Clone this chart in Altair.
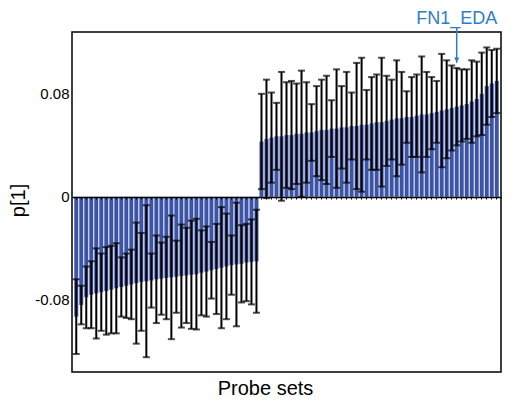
import altair as alt
import pandas as pd

# loadings p[1] of probe sets, sorted (negative block, then positive block)
neg_values = [-0.093, -0.084, -0.078, -0.076, -0.075, -0.074, -0.073, -0.072, -0.071, -0.070,
              -0.069, -0.068, -0.067, -0.066, -0.0655, -0.065, -0.064, -0.0635, -0.063, -0.0625,
              -0.062, -0.0615, -0.061, -0.0605, -0.060, -0.059, -0.058, -0.057, -0.056, -0.055,
              -0.054, -0.053, -0.0525, -0.052, -0.051, -0.0505, -0.050]
neg_errors = [0.029, 0.015, 0.024, 0.026, 0.035, 0.030, 0.034, 0.034, 0.035, 0.023,
              0.025, 0.027, 0.047, 0.038, 0.059, 0.021, 0.034, 0.028, 0.032, 0.048,
              0.028, 0.040, 0.037, 0.042, 0.043, 0.033, 0.035, 0.022, 0.035, 0.047,
              0.041, 0.023, 0.048, 0.030, 0.030, 0.033, 0.040]
pos_values = [0.043, 0.045, 0.046, 0.047, 0.047, 0.048, 0.048, 0.049, 0.049, 0.050,
              0.050, 0.051, 0.052, 0.052, 0.053, 0.053, 0.054, 0.054, 0.055, 0.055,
              0.056, 0.056, 0.057, 0.058, 0.058, 0.059, 0.060, 0.061, 0.061, 0.062,
              0.062, 0.063, 0.064, 0.064, 0.065, 0.066, 0.067, 0.068, 0.069, 0.070,
              0.071, 0.072, 0.074, 0.076, 0.080, 0.086, 0.088, 0.090]
pos_errors = [0.037, 0.046, 0.035, 0.026, 0.050, 0.041, 0.042, 0.039, 0.049, 0.039,
              0.022, 0.035, 0.039, 0.042, 0.022, 0.046, 0.032, 0.043, 0.026, 0.049,
              0.052, 0.027, 0.036, 0.037, 0.050, 0.035, 0.031, 0.045, 0.036, 0.020,
              0.031, 0.032, 0.045, 0.033, 0.028, 0.024, 0.044, 0.038, 0.033, 0.030,
              0.028, 0.027, 0.032, 0.029, 0.032, 0.030, 0.026, 0.025]

y_ticks = [-0.08, 0, 0.08]
highlight_label = "FN1_EDA"
highlight_index = 76

values = neg_values + pos_values
errors = neg_errors + pos_errors
df = pd.DataFrame({"probe": list(range(len(values))), "p1": values, "err": errors})
df["lo"] = df["p1"] - df["err"]
df["hi"] = df["p1"] + df["err"]

ann = pd.DataFrame({
    "probe": [highlight_index],
    "label": [highlight_label],
    "tip": [df.loc[highlight_index, "hi"] + 0.004],
})

FONT = "Liberation Sans"
BLUE = "#3B54A6"
ANN = "#2E7DC4"

x_enc = alt.X(
    "probe:O",
    scale=alt.Scale(paddingInner=0.2, paddingOuter=0.45),
    axis=alt.Axis(
        labels=False, ticks=True, tickSize=2, tickColor="black", tickWidth=1,
        domain=True, domainColor="black", domainWidth=1.5, grid=False,
        offset=-175, zindex=1,
        title="Probe sets", titleFontSize=20, titleFontWeight="normal", titleFont=FONT,
        titleColor="black", titleX=193, titleY=197, titleBaseline="alphabetic",
    ),
)
y_scale = alt.Scale(domain=[-0.136, 0.128], nice=False, zero=False)
y_enc = alt.Y(
    "p1:Q",
    scale=y_scale,
    axis=alt.Axis(
        values=y_ticks,
        labelExpr="datum.value == 0 ? '0' : (datum.value < 0 ? '-' : '') + format(abs(datum.value), '.2f')",
        ticks=False, grid=False, domain=False, labelFontSize=15, labelColor="black",
        labelFont=FONT, labelPadding=3,
        title="p[1]", titleFontSize=20, titleFontWeight="normal", titleFont=FONT,
        titleColor="black", titleX=-54, titleY=168, titleBaseline="middle",
    ),
)

bars = alt.Chart(df).mark_bar(color=BLUE).encode(x=x_enc, y=y_enc, y2=alt.datum(0))
err_rule = alt.Chart(df).mark_rule(color="black", strokeWidth=2).encode(
    x="probe:O", y=alt.Y("lo:Q", scale=y_scale), y2="hi:Q")
cap_hi = alt.Chart(df).mark_tick(color="black", size=7, thickness=2, orient="horizontal").encode(
    x="probe:O", y=alt.Y("hi:Q", scale=y_scale))
cap_lo = alt.Chart(df).mark_tick(color="black", size=7, thickness=2, orient="horizontal").encode(
    x="probe:O", y=alt.Y("lo:Q", scale=y_scale))

arrow = alt.Chart(ann).mark_rule(color=ANN, strokeWidth=1.5).encode(
    x="probe:O", y=alt.Y("tip:Q", scale=y_scale), y2=alt.value(-5))
head = alt.Chart(ann).mark_point(shape="triangle-down", filled=True, size=28, color=ANN,
                                 opacity=1, yOffset=-3).encode(
    x="probe:O", y=alt.Y("tip:Q", scale=y_scale))
label = alt.Chart(ann).mark_text(color=ANN, fontSize=18, font=FONT, baseline="middle").encode(
    x="probe:O", y=alt.value(-13), text="label:N")

chart = alt.layer(bars, err_rule, cap_hi, cap_lo, arrow, head, label).properties(
    width=429, height=340,
    autosize=alt.AutoSizeParams(type="none"),
    padding={"left": 64, "top": 24, "right": 9, "bottom": 29},
).configure(font=FONT).configure_view(stroke="black", strokeWidth=1.5)

chart.save("out.html", embed_options={"renderer": "svg", "actions": False})
